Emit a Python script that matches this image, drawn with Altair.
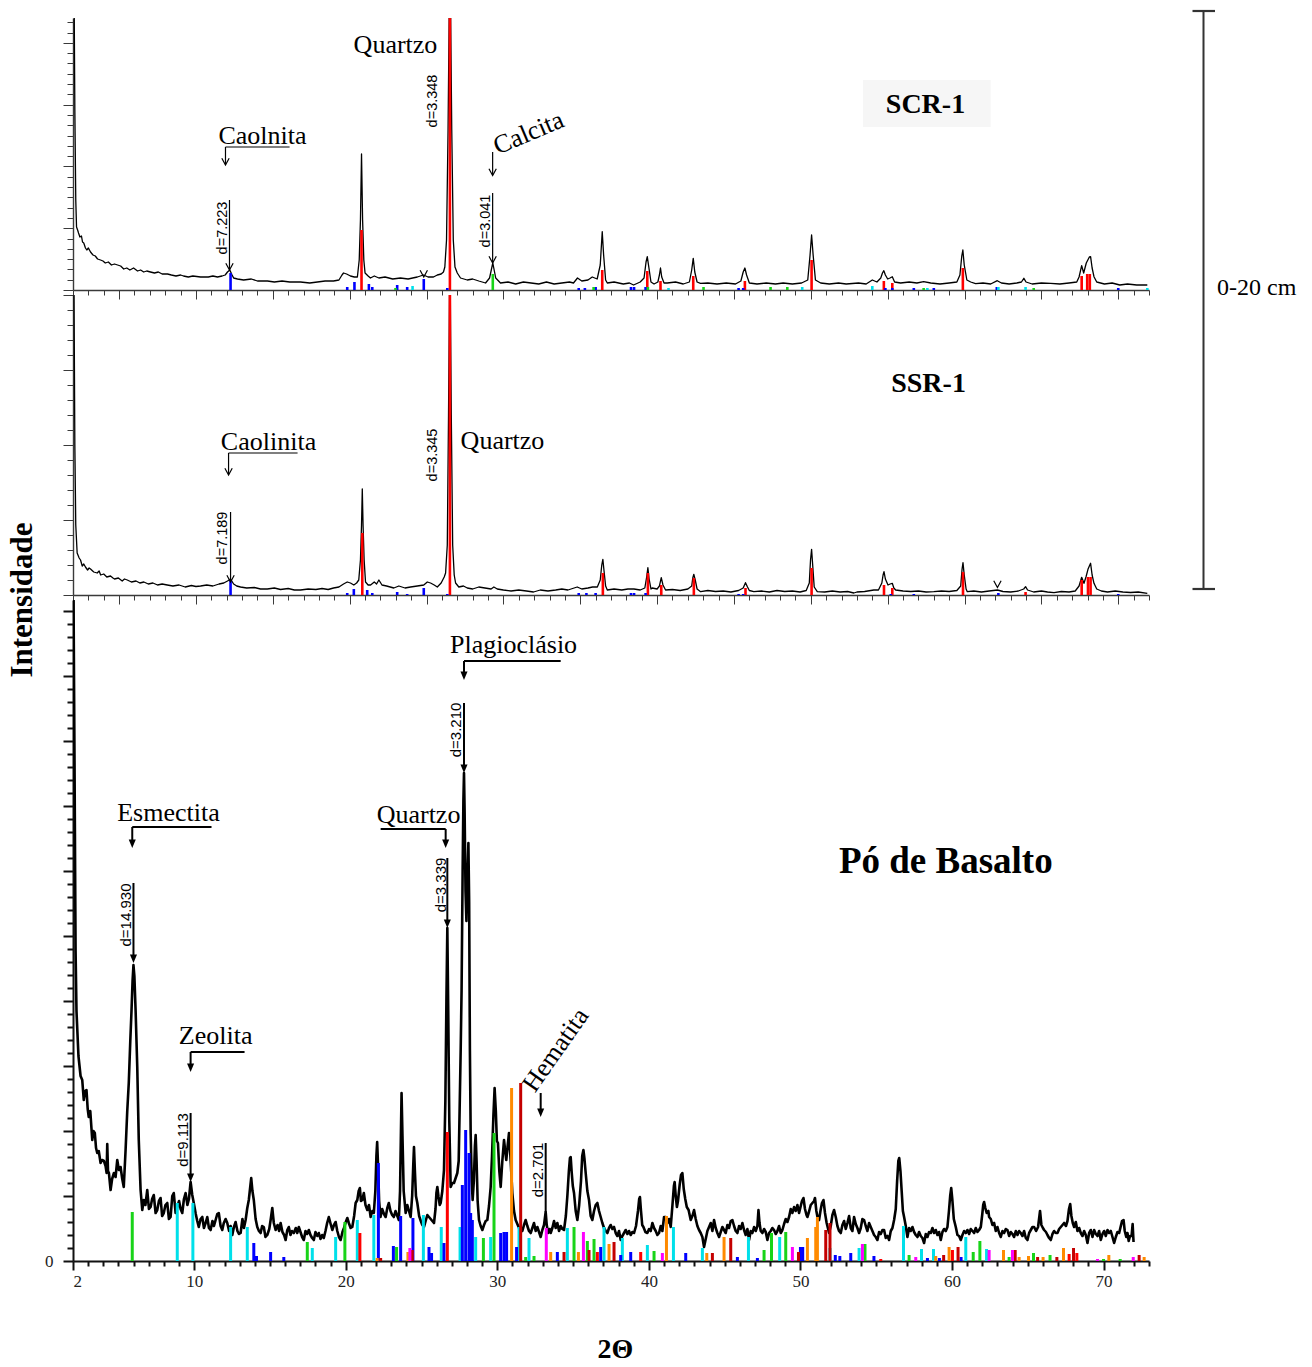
import altair as alt
import pandas as pd

SERIF = "Liberation Serif"
SANS = "Liberation Sans"
PLOT_W = 1076

# ---------------------------------------------------------------
# Diffractograms: (2θ, counts)
# ---------------------------------------------------------------
scr_pattern = [
    (2.00, 4000), (2.05, 3500), (2.12, 1800), (2.18, 900), (2.23, 630), (2.30, 600), (2.36, 570),
    (2.45, 530), (2.55, 540), (2.62, 480), (2.70, 470), (2.81, 420), (2.90, 400), (3.00, 420),
    (3.14, 380), (3.30, 350), (3.45, 340), (3.60, 310), (3.79, 300), (3.95, 290), (4.10, 270),
    (4.30, 280), (4.50, 250), (4.70, 260), (4.90, 250), (5.10, 240), (5.30, 210), (5.50, 220),
    (5.70, 200), (5.94, 220), (6.20, 190), (6.40, 200), (6.60, 180), (6.80, 190), (7.04, 180),
    (7.30, 170), (7.55, 180), (7.80, 160), (8.15, 160), (8.40, 150), (8.70, 140), (9.00, 150),
    (9.19, 140), (9.50, 130), (9.80, 140), (10.30, 130), (10.80, 130), (11.10, 140), (11.40, 130),
    (11.70, 140), (11.90, 150), (12.05, 180), (12.20, 200), (12.35, 150), (12.45, 120), (12.70, 110),
    (13.10, 100), (13.60, 110), (14.00, 90), (14.65, 90), (15.10, 80), (15.60, 90), (16.10, 80),
    (16.80, 80), (17.40, 70), (17.90, 80), (18.40, 90), (18.95, 90), (19.30, 100), (19.50, 150),
    (19.60, 170), (19.80, 160), (20.05, 140), (20.30, 130), (20.50, 130), (20.62, 300), (20.70, 700),
    (20.77, 1360), (20.84, 700), (20.92, 300), (21.00, 170), (21.20, 140), (21.35, 120), (21.60, 140),
    (21.90, 120), (22.30, 130), (22.80, 110), (23.30, 120), (23.80, 110), (24.40, 130), (24.80, 150),
    (25.10, 130), (25.45, 130), (25.70, 150), (25.95, 160), (26.10, 180), (26.19, 230), (26.30, 500),
    (26.40, 1600), (26.52, 3500), (26.64, 1600), (26.74, 500), (26.85, 230), (27.00, 170), (27.21, 120),
    (27.65, 100), (28.00, 110), (28.40, 90), (28.84, 70), (29.10, 120), (29.31, 270), (29.50, 120),
    (29.81, 70), (30.30, 80), (30.80, 60), (31.30, 80), (31.80, 70), (32.30, 60), (32.80, 80),
    (33.30, 60), (33.80, 70), (34.30, 80), (34.56, 70), (34.82, 120), (35.10, 90), (35.50, 100),
    (35.78, 130), (36.10, 110), (36.30, 250), (36.43, 583), (36.52, 350), (36.65, 100), (36.76, 70),
    (37.20, 80), (37.80, 60), (38.20, 70), (38.47, 50), (38.90, 80), (39.15, 120), (39.28, 280),
    (39.36, 333), (39.44, 250), (39.60, 80), (39.80, 60), (40.05, 80), (40.15, 150), (40.22, 220),
    (40.30, 130), (40.45, 70), (40.66, 70), (41.20, 80), (41.70, 60), (42.10, 80), (42.25, 200),
    (42.35, 317), (42.45, 180), (42.60, 80), (42.82, 67), (43.30, 70), (43.90, 60), (44.50, 70),
    (45.10, 60), (45.45, 90), (45.60, 180), (45.71, 220), (45.82, 150), (46.00, 70), (46.50, 60),
    (47.10, 70), (47.70, 60), (48.20, 70), (48.80, 60), (49.40, 70), (49.80, 100), (49.95, 350),
    (50.05, 550), (50.15, 350), (50.30, 100), (50.64, 70), (51.20, 60), (51.80, 70), (52.30, 60),
    (53.10, 70), (53.60, 60), (54.00, 100), (54.30, 80), (54.55, 120), (54.66, 170), (54.75, 193),
    (54.85, 150), (55.00, 110), (55.15, 120), (55.30, 133), (55.45, 80), (55.84, 70), (56.40, 80),
    (56.90, 70), (57.34, 83), (57.80, 70), (58.40, 60), (59.00, 70), (59.50, 80), (59.70, 150),
    (59.82, 340), (59.89, 400), (59.98, 250), (60.15, 100), (60.40, 80), (60.72, 63), (61.20, 70),
    (61.70, 60), (62.13, 93), (62.40, 70), (62.90, 60), (63.40, 70), (63.70, 80), (63.86, 117),
    (64.00, 80), (64.40, 60), (65.00, 70), (65.60, 67), (66.20, 60), (66.80, 70), (67.30, 80),
    (67.45, 130), (67.62, 243), (67.75, 170), (67.92, 270), (68.02, 300), (68.12, 330), (68.20, 333),
    (68.30, 220), (68.42, 133), (68.60, 80), (69.10, 60), (69.60, 70), (70.10, 50), (70.60, 60),
    (71.20, 50), (71.89, 50),
]

ssr_pattern = [
    (2.00, 4000), (2.05, 3500), (2.12, 1500), (2.18, 700), (2.27, 420), (2.40, 370), (2.49, 350),
    (2.60, 290), (2.70, 310), (2.81, 280), (2.95, 250), (3.05, 270), (3.14, 260), (3.35, 230),
    (3.57, 220), (3.70, 240), (3.80, 200), (4.00, 210), (4.20, 180), (4.44, 190), (4.60, 170),
    (4.70, 160), (4.95, 170), (5.20, 140), (5.35, 160), (5.53, 150), (5.80, 130), (6.10, 140),
    (6.35, 120), (6.61, 130), (6.90, 110), (7.20, 120), (7.50, 100), (7.80, 110), (8.13, 100),
    (8.50, 90), (8.90, 100), (9.30, 80), (9.70, 95), (10.00, 85), (10.30, 90), (10.70, 100),
    (11.10, 90), (11.50, 110), (11.81, 120), (12.05, 140), (12.25, 160), (12.45, 110), (12.65, 90),
    (12.90, 80), (13.30, 70), (13.80, 75), (14.20, 60), (14.64, 60), (15.10, 70), (15.50, 55),
    (16.00, 65), (16.40, 50), (16.80, 50), (17.30, 60), (17.80, 55), (18.20, 65), (18.60, 55),
    (18.95, 70), (19.30, 80), (19.60, 110), (19.84, 130), (20.05, 120), (20.27, 100), (20.45, 120),
    (20.59, 150), (20.70, 350), (20.77, 700), (20.82, 1060), (20.87, 700), (20.94, 350), (21.03, 130),
    (21.20, 100), (21.36, 100), (21.60, 130), (21.75, 110), (21.90, 150), (22.10, 100), (22.40, 90),
    (22.87, 70), (23.20, 90), (23.60, 70), (23.96, 80), (24.40, 90), (24.82, 100), (25.05, 130),
    (25.26, 120), (25.50, 100), (25.70, 80), (25.95, 120), (26.15, 180), (26.24, 220), (26.35, 500),
    (26.43, 1800), (26.52, 3500), (26.61, 1800), (26.70, 500), (26.80, 200), (26.89, 120), (27.10, 80),
    (27.40, 90), (27.65, 70), (28.00, 60), (28.40, 80), (28.80, 70), (29.20, 60), (29.38, 80),
    (29.60, 60), (30.00, 50), (30.50, 40), (31.00, 50), (31.50, 40), (31.96, 30), (32.40, 50),
    (32.90, 40), (33.40, 50), (33.80, 60), (34.20, 50), (34.60, 70), (34.80, 80), (35.10, 60),
    (35.50, 70), (35.80, 80), (36.11, 80), (36.30, 150), (36.40, 300), (36.47, 357), (36.54, 250),
    (36.65, 90), (36.76, 50), (37.20, 60), (37.70, 50), (38.10, 60), (38.49, 60), (38.90, 50),
    (39.20, 70), (39.32, 180), (39.40, 273), (39.48, 160), (39.60, 60), (39.68, 70), (40.00, 60),
    (40.15, 90), (40.27, 173), (40.38, 100), (40.55, 50), (41.00, 55), (41.50, 45), (42.00, 60),
    (42.25, 90), (42.32, 170), (42.39, 207), (42.48, 150), (42.60, 60), (42.83, 33), (43.30, 45),
    (43.80, 35), (44.30, 40), (44.80, 30), (45.30, 45), (45.60, 70), (45.75, 123), (45.88, 80),
    (46.00, 45), (46.29, 33), (46.80, 40), (47.30, 30), (47.80, 45), (48.30, 35), (48.80, 40),
    (49.30, 30), (49.70, 45), (49.90, 120), (49.98, 350), (50.05, 457), (50.12, 300), (50.22, 80),
    (50.42, 33), (50.90, 30), (51.40, 40), (51.90, 30), (52.40, 35), (52.80, 20), (53.00, 30),
    (53.50, 35), (54.10, 50), (54.40, 50), (54.62, 120), (54.70, 200), (54.76, 233), (54.85, 160),
    (55.02, 100), (55.16, 110), (55.30, 117), (55.40, 70), (55.52, 50), (56.00, 40), (56.50, 35),
    (57.00, 40), (57.50, 30), (58.00, 33), (58.50, 40), (59.00, 35), (59.50, 45), (59.75, 90),
    (59.84, 260), (59.90, 323), (59.98, 200), (60.10, 60), (60.18, 33), (60.60, 40), (61.10, 30),
    (61.60, 40), (62.14, 50), (62.50, 35), (63.00, 30), (63.50, 40), (63.85, 60), (63.97, 83),
    (64.10, 50), (64.50, 30), (65.00, 40), (65.40, 30), (65.82, 23), (66.30, 35), (66.80, 30),
    (67.20, 40), (67.45, 90), (67.62, 177), (67.77, 117), (67.90, 180), (68.03, 257), (68.12, 290),
    (68.20, 317), (68.30, 200), (68.42, 117), (68.60, 60), (68.90, 40), (69.30, 30), (69.80, 40),
    (70.30, 30), (70.80, 25), (71.30, 30), (71.89, 17),
]

basalt_pattern = [
    (2.02, 7000), (2.10, 5000), (2.17, 3100), (2.23, 2500), (2.36, 2050), (2.50, 1850), (2.61, 1810),
    (2.71, 1610), (2.80, 1700), (2.89, 1710), (2.97, 1520), (3.04, 1440), (3.14, 1500), (3.27, 1210),
    (3.35, 1300), (3.44, 1280), (3.52, 1130), (3.60, 1080), (3.70, 1100), (3.82, 980), (3.92, 1010),
    (4.04, 1000), (4.15, 950), (4.22, 880), (4.26, 1170), (4.31, 900), (4.37, 880), (4.48, 710),
    (4.58, 820), (4.70, 880), (4.81, 840), (4.92, 1010), (5.03, 910), (5.14, 940), (5.25, 820),
    (5.35, 740), (5.47, 1110), (5.58, 1500), (5.68, 1780), (5.78, 2200), (5.86, 2500), (5.93, 2800),
    (5.99, 2960), (6.05, 2850), (6.13, 2510), (6.24, 1940), (6.34, 1210), (6.46, 710), (6.57, 510),
    (6.67, 610), (6.78, 560), (6.90, 710), (7.01, 520), (7.12, 540), (7.22, 620), (7.33, 660),
    (7.45, 480), (7.56, 510), (7.67, 600), (7.78, 630), (7.88, 450), (7.99, 480), (8.10, 560),
    (8.22, 580), (8.33, 420), (8.44, 440), (8.55, 650), (8.65, 680), (8.77, 480), (8.88, 540),
    (9.00, 600), (9.10, 520), (9.21, 480), (9.32, 620), (9.43, 680), (9.55, 560), (9.65, 620),
    (9.76, 790), (9.87, 660), (9.97, 580), (10.10, 470), (10.20, 400), (10.30, 340), (10.42, 420),
    (10.53, 440), (10.64, 330), (10.75, 380), (10.86, 440), (10.97, 330), (11.08, 310), (11.20, 400),
    (11.30, 350), (11.41, 410), (11.52, 470), (11.62, 480), (11.74, 350), (11.85, 310), (11.95, 380),
    (12.07, 420), (12.18, 380), (12.30, 300), (12.40, 350), (12.51, 260), (12.62, 340), (12.73, 390),
    (12.85, 300), (12.95, 270), (13.06, 280), (13.18, 420), (13.28, 330), (13.39, 410), (13.50, 530),
    (13.60, 610), (13.68, 720), (13.76, 830), (13.84, 700), (13.93, 610), (14.05, 420), (14.16, 340),
    (14.27, 300), (14.38, 280), (14.48, 350), (14.59, 340), (14.70, 240), (14.82, 260), (14.95, 320),
    (15.05, 420), (15.15, 530), (15.25, 380), (15.37, 310), (15.50, 360), (15.60, 300), (15.70, 380),
    (15.82, 290), (15.93, 260), (16.03, 210), (16.14, 310), (16.24, 340), (16.35, 260), (16.45, 300),
    (16.57, 280), (16.70, 330), (16.80, 280), (16.90, 340), (17.01, 290), (17.12, 240), (17.23, 210),
    (17.34, 300), (17.45, 270), (17.56, 310), (17.67, 260), (17.78, 230), (17.89, 210), (18.00, 290),
    (18.12, 250), (18.22, 280), (18.33, 220), (18.44, 260), (18.55, 230), (18.66, 300), (18.77, 380),
    (18.88, 440), (19.00, 370), (19.11, 310), (19.22, 360), (19.33, 390), (19.44, 300), (19.55, 240),
    (19.66, 210), (19.78, 290), (19.88, 330), (20.00, 390), (20.10, 430), (20.20, 380), (20.32, 330),
    (20.43, 340), (20.55, 450), (20.65, 580), (20.76, 610), (20.85, 700), (20.93, 730), (21.00, 600),
    (21.09, 610), (21.19, 680), (21.30, 560), (21.42, 510), (21.53, 560), (21.64, 440), (21.75, 500),
    (21.85, 480), (21.95, 700), (22.02, 1050), (22.07, 1190), (22.13, 950), (22.20, 600), (22.29, 440),
    (22.40, 520), (22.52, 470), (22.63, 440), (22.74, 530), (22.84, 580), (22.95, 500), (23.06, 460),
    (23.17, 440), (23.28, 500), (23.40, 450), (23.50, 410), (23.58, 700), (23.63, 1200), (23.68, 1680),
    (23.74, 1250), (23.82, 700), (23.95, 480), (24.06, 560), (24.17, 500), (24.28, 440), (24.38, 650),
    (24.45, 950), (24.50, 1140), (24.56, 900), (24.63, 650), (24.72, 580), (24.84, 450), (24.95, 400),
    (25.05, 360), (25.16, 340), (25.27, 400), (25.38, 460), (25.49, 440), (25.60, 420), (25.71, 400),
    (25.82, 380), (25.92, 520), (25.98, 680), (26.04, 740), (26.12, 640), (26.20, 560), (26.26, 580),
    (26.37, 700), (26.48, 910), (26.57, 1600), (26.64, 2600), (26.70, 3330), (26.76, 2500), (26.83, 1400),
    (26.92, 740), (27.03, 780), (27.14, 780), (27.25, 830), (27.36, 880), (27.45, 1000), (27.51, 1500),
    (27.58, 2100), (27.64, 2700), (27.71, 3900), (27.76, 4600), (27.80, 4880), (27.84, 4500), (27.90, 3700),
    (27.96, 3400), (28.02, 3800), (28.09, 4180), (28.14, 3600), (28.19, 2100), (28.24, 1280), (28.31, 800),
    (28.37, 610), (28.45, 800), (28.52, 1150), (28.57, 1260), (28.63, 1000), (28.70, 600), (28.79, 410),
    (28.90, 350), (29.01, 310), (29.12, 360), (29.23, 400), (29.34, 410), (29.45, 550), (29.56, 740),
    (29.65, 1050), (29.74, 1450), (29.82, 1730), (29.90, 1500), (29.97, 1200), (30.04, 1180), (30.13, 900),
    (30.22, 740), (30.33, 1000), (30.44, 1210), (30.52, 1100), (30.59, 1010), (30.68, 1150), (30.77, 1280),
    (30.88, 1000), (30.99, 680), (31.10, 500), (31.21, 410), (31.32, 370), (31.43, 330), (31.54, 340),
    (31.65, 300), (31.76, 360), (31.87, 410), (31.98, 350), (32.09, 300), (32.20, 280), (32.31, 330),
    (32.42, 380), (32.53, 300), (32.64, 340), (32.75, 290), (32.86, 240), (32.97, 310), (33.08, 360),
    (33.19, 490), (33.26, 360), (33.35, 280), (33.45, 320), (33.52, 280), (33.63, 330), (33.74, 400),
    (33.85, 330), (33.96, 380), (34.07, 300), (34.18, 350), (34.29, 320), (34.40, 310), (34.52, 450),
    (34.62, 650), (34.72, 900), (34.79, 1030), (34.84, 1040), (34.90, 900), (34.98, 750), (35.06, 680),
    (35.17, 500), (35.28, 410), (35.40, 560), (35.52, 800), (35.60, 1050), (35.68, 1110), (35.75, 1020),
    (35.83, 880), (35.94, 700), (36.05, 610), (36.16, 450), (36.27, 410), (36.38, 500), (36.49, 560),
    (36.60, 580), (36.71, 500), (36.82, 440), (36.93, 380), (37.04, 330), (37.15, 300), (37.26, 280),
    (37.37, 330), (37.48, 360), (37.59, 320), (37.70, 340), (37.81, 280), (37.92, 250), (38.03, 300),
    (38.14, 210), (38.25, 250), (38.36, 280), (38.47, 310), (38.58, 270), (38.69, 300), (38.80, 260),
    (38.91, 290), (39.02, 280), (39.15, 350), (39.28, 500), (39.36, 620), (39.41, 640), (39.48, 500),
    (39.56, 360), (39.64, 340), (39.77, 290), (39.90, 280), (40.01, 320), (40.12, 300), (40.23, 380),
    (40.34, 330), (40.45, 300), (40.56, 260), (40.67, 280), (40.78, 350), (40.89, 300), (41.00, 440),
    (41.11, 440), (41.22, 380), (41.33, 420), (41.44, 340), (41.55, 550), (41.65, 750), (41.70, 790),
    (41.77, 650), (41.85, 540), (41.92, 600), (42.03, 760), (42.12, 860), (42.21, 880), (42.30, 720),
    (42.40, 620), (42.50, 540), (42.62, 510), (42.76, 410), (42.87, 450), (42.98, 510), (43.09, 420),
    (43.20, 350), (43.31, 310), (43.42, 280), (43.53, 240), (43.64, 140), (43.75, 220), (43.86, 300),
    (43.97, 340), (44.08, 380), (44.19, 300), (44.30, 410), (44.41, 330), (44.52, 280), (44.63, 240),
    (44.74, 290), (44.85, 340), (44.96, 310), (45.07, 280), (45.18, 360), (45.29, 330), (45.40, 400),
    (45.51, 410), (45.62, 350), (45.73, 300), (45.84, 280), (45.95, 350), (46.06, 320), (46.17, 380),
    (46.28, 310), (46.39, 260), (46.50, 320), (46.61, 210), (46.72, 300), (46.83, 280), (46.94, 340),
    (47.05, 300), (47.16, 350), (47.23, 510), (47.30, 380), (47.38, 300), (47.49, 280), (47.60, 320),
    (47.71, 290), (47.82, 210), (47.93, 280), (48.04, 300), (48.15, 330), (48.26, 310), (48.37, 270),
    (48.48, 300), (48.59, 350), (48.70, 280), (48.81, 310), (48.92, 370), (49.03, 420), (49.14, 390),
    (49.25, 440), (49.36, 520), (49.47, 480), (49.58, 540), (49.69, 500), (49.80, 560), (49.91, 480),
    (50.02, 550), (50.10, 600), (50.20, 630), (50.30, 520), (50.40, 460), (50.46, 440), (50.56, 490),
    (50.68, 560), (50.79, 580), (50.90, 600), (50.96, 630), (51.05, 500), (51.15, 420), (51.23, 410),
    (51.32, 500), (51.42, 580), (51.52, 610), (51.62, 480), (51.73, 380), (51.89, 280), (52.00, 350),
    (52.11, 460), (52.22, 510), (52.33, 440), (52.44, 350), (52.55, 300), (52.66, 280), (52.77, 360),
    (52.88, 400), (52.99, 320), (53.10, 380), (53.21, 450), (53.32, 330), (53.43, 300), (53.54, 440),
    (53.65, 370), (53.76, 330), (53.87, 280), (53.98, 330), (54.09, 420), (54.20, 410), (54.31, 350),
    (54.42, 300), (54.53, 380), (54.64, 340), (54.75, 300), (54.86, 260), (54.97, 240), (55.08, 210),
    (55.19, 290), (55.30, 270), (55.41, 310), (55.52, 310), (55.63, 230), (55.74, 250), (55.85, 210),
    (55.96, 300), (56.07, 330), (56.18, 410), (56.29, 520), (56.38, 800), (56.46, 1000), (56.52, 1030),
    (56.60, 900), (56.68, 700), (56.76, 500), (56.84, 440), (56.95, 350), (57.06, 240), (57.17, 330),
    (57.28, 300), (57.39, 340), (57.50, 290), (57.61, 260), (57.72, 240), (57.83, 290), (57.94, 250),
    (58.05, 230), (58.16, 180), (58.27, 270), (58.38, 240), (58.49, 290), (58.60, 280), (58.71, 330),
    (58.82, 280), (58.93, 310), (59.04, 260), (59.15, 290), (59.26, 210), (59.37, 290), (59.48, 320),
    (59.59, 300), (59.70, 340), (59.80, 500), (59.88, 650), (59.95, 730), (60.02, 620), (60.12, 420),
    (60.25, 340), (60.36, 260), (60.47, 250), (60.58, 210), (60.69, 260), (60.80, 300), (60.91, 280),
    (61.02, 310), (61.13, 270), (61.24, 320), (61.35, 300), (61.46, 280), (61.57, 330), (61.68, 290),
    (61.79, 310), (61.90, 340), (62.00, 470), (62.06, 560), (62.12, 590), (62.20, 530), (62.29, 480),
    (62.40, 500), (62.45, 440), (62.56, 420), (62.67, 360), (62.78, 380), (62.89, 300), (63.00, 340),
    (63.11, 280), (63.22, 240), (63.33, 300), (63.44, 280), (63.55, 320), (63.66, 310), (63.77, 250),
    (63.88, 290), (63.99, 270), (64.10, 240), (64.21, 300), (64.32, 260), (64.43, 300), (64.54, 280),
    (64.65, 250), (64.76, 300), (64.87, 230), (64.98, 210), (65.09, 280), (65.20, 310), (65.31, 340),
    (65.42, 340), (65.55, 300), (65.68, 340), (65.81, 500), (65.90, 360), (66.00, 330), (66.08, 310),
    (66.20, 290), (66.30, 260), (66.41, 230), (66.52, 210), (66.63, 270), (66.74, 300), (66.85, 280),
    (66.96, 280), (67.07, 320), (67.18, 340), (67.29, 360), (67.40, 380), (67.52, 350), (67.62, 400),
    (67.72, 520), (67.80, 570), (67.88, 450), (67.97, 380), (68.06, 340), (68.17, 390), (68.28, 300),
    (68.39, 330), (68.50, 280), (68.61, 250), (68.72, 300), (68.83, 260), (68.94, 180), (69.05, 280),
    (69.16, 310), (69.27, 240), (69.38, 310), (69.49, 270), (69.60, 250), (69.71, 300), (69.82, 210),
    (69.93, 270), (70.04, 300), (70.15, 250), (70.26, 310), (70.37, 280), (70.48, 300), (70.59, 240),
    (70.70, 180), (70.81, 240), (70.92, 290), (71.03, 280), (71.14, 350), (71.22, 400), (71.32, 410),
    (71.40, 300), (71.50, 240), (71.58, 280), (71.66, 200), (71.75, 250), (71.85, 250), (71.92, 370),
    (71.98, 190),
]

# ---------------------------------------------------------------
# Reference stick patterns: (2θ, relative height) per colour
# ---------------------------------------------------------------
scr_sticks = {
    "vermelho": [(20.77, 600), (26.52, 3000), (36.43, 200), (39.36, 190), (40.22, 90), (42.35, 140),
                 (45.71, 90), (50.05, 300), (54.75, 90), (55.30, 70), (59.89, 220), (67.62, 140),
                 (67.98, 160), (68.15, 160)],
    "azul": [(12.25, 170), (19.84, 30), (20.31, 80), (21.25, 60), (21.47, 30), (23.09, 50), (23.74, 30),
             (24.82, 110), (26.35, 20), (34.90, 20), (35.30, 20), (36.00, 30), (38.30, 30), (38.50, 30),
             (39.25, 30), (45.30, 20), (45.60, 20), (54.85, 20), (55.30, 20), (56.70, 20), (58.00, 20),
             (62.10, 30), (70.00, 20)],
    "ciano": [(24.09, 40), (40.74, 20), (49.44, 30), (54.00, 40), (57.58, 20), (62.20, 30), (63.97, 30),
              (71.89, 20)],
    "verde": [(22.98, 20), (29.31, 160), (35.87, 30), (39.40, 30), (43.02, 30), (47.38, 30), (48.47, 30),
              (57.34, 20), (64.50, 20)],
}

ssr_sticks = {
    "vermelho": [(20.82, 620), (26.52, 3000), (36.47, 220), (39.40, 220), (40.27, 100), (42.39, 170),
                 (45.75, 70), (50.05, 270), (54.76, 100), (55.30, 70), (59.90, 230), (63.97, 30),
                 (67.62, 150), (68.03, 180), (68.20, 180)],
    "azul": [(12.25, 150), (19.84, 20), (20.27, 60), (21.14, 50), (21.47, 20), (23.09, 30), (23.74, 10),
             (24.82, 70), (26.35, 10), (34.90, 20), (35.40, 20), (36.00, 20), (38.30, 20), (38.50, 20),
             (39.25, 20), (45.30, 10), (45.60, 10), (55.20, 10), (56.70, 10), (62.20, 20), (70.00, 10)],
}

basalt_sticks = {
    "verde": [(5.91, 490), (17.46, 190), (19.94, 390), (23.35, 140), (29.08, 230), (29.78, 1280),
              (31.87, 40), (32.42, 50), (35.06, 340), (35.94, 200), (36.38, 220), (40.34, 100),
              (47.60, 110), (48.09, 280), (49.03, 290), (54.26, 170), (57.17, 60), (61.40, 90),
              (61.84, 200), (63.77, 40), (65.38, 80), (66.47, 60), (70.00, 20), (71.10, 20)],
    "ciano": [(8.88, 580), (9.91, 580), (12.40, 340), (13.50, 340), (17.79, 130), (19.33, 240),
              (20.76, 410), (21.85, 460), (25.12, 460), (26.30, 340), (27.54, 340), (28.57, 240),
              (29.56, 240), (31.43, 340), (32.09, 230), (34.62, 330), (37.04, 340), (38.25, 230),
              (39.90, 160), (41.62, 340), (43.53, 130), (46.57, 240), (48.63, 240), (51.95, 130),
              (53.87, 130), (56.80, 350), (57.99, 120), (58.78, 120), (60.91, 240), (62.28, 120)],
    "azul": [(13.93, 180), (14.11, 50), (15.04, 90), (15.91, 40), (22.15, 980), (23.14, 150),
             (23.62, 450), (24.43, 430), (25.49, 140), (25.66, 80), (26.48, 180), (27.69, 760),
             (27.91, 1310), (28.13, 1080), (28.24, 480), (28.35, 410), (30.22, 280), (30.44, 290),
             (30.61, 290), (31.27, 140), (33.96, 90), (36.82, 140), (38.14, 60), (38.80, 90),
             (42.43, 80), (45.84, 40), (47.16, 30), (50.00, 140), (50.15, 140), (52.30, 60),
             (52.60, 50), (53.32, 80), (54.85, 50), (58.38, 30), (59.17, 30), (60.60, 40)],
    "vermelho": [(20.93, 280), (26.70, 1290), (36.60, 90), (39.46, 90), (55.30, 20), (60.03, 110),
                 (67.73, 70), (68.24, 80)],
    "laranja": [(22.07, 30), (24.10, 90), (30.94, 1730), (33.52, 90), (35.35, 90), (37.37, 170),
                (41.16, 450), (43.82, 80), (44.96, 240), (50.46, 230), (51.01, 340), (51.12, 440),
                (58.93, 50), (59.81, 140), (63.40, 110), (64.43, 40), (65.05, 50), (66.01, 40),
                (67.36, 130), (70.35, 60), (72.68, 40)],
    "vinho": [(22.30, 30), (24.39, 110), (31.54, 1780), (34.40, 90), (36.05, 110), (37.70, 190),
              (44.19, 80), (45.40, 230), (49.87, 90), (51.67, 310), (51.95, 380), (59.45, 60),
              (60.40, 140), (64.17, 110), (65.65, 40), (66.92, 40), (68.02, 130), (72.35, 60)],
    "magenta": [(24.23, 130), (33.23, 330), (35.68, 290), (40.89, 80), (49.47, 140), (54.09, 170),
                (57.61, 40), (62.45, 110), (63.99, 110), (69.60, 20), (71.96, 40)],
}

STICK_COLORS = {
    "verde": "#18d418",
    "ciano": "#00e0ea",
    "azul": "#0000ff",
    "vermelho": "#ff0000",
    "laranja": "#ff8a00",
    "vinho": "#c40000",
    "magenta": "#ff00ff",
}

# ---------------------------------------------------------------
# Annotations (2θ, counts)
# ---------------------------------------------------------------
scr_labels = [("Quartzo", 22.98, 2450), ("Caolnita", 14.33, 1540)]
scr_tilted = [("Calcita", 31.64, 1570, 337)]
scr_dvalues = [("d=3.348", 25.45, 1890), ("d=7.223", 11.74, 620), ("d=3.041", 28.84, 690)]
scr_lines = [(11.92, 1430, 16.09, 1430), (11.92, 1430, 11.92, 1255), (12.18, 900, 12.18, 205),
             (29.30, 1380, 29.30, 1150), (29.30, 970, 29.30, 275)]
scr_heads = [(11.92, 1250), (12.18, 200), (29.30, 1145), (29.30, 270), (24.82, 130)]
scr_sample = [("SCR-1", 57.46, 1850)]
scr_box = [(53.4, 2100, 61.7, 1630)]

ssr_labels = [("Caolinita", 14.72, 1530), ("Quartzo", 29.94, 1540)]
ssr_dvalues = [("d=7.189", 11.74, 570), ("d=3.345", 25.45, 1400)]
ssr_lines = [(12.12, 1420, 16.61, 1420), (12.12, 1420, 12.12, 1205), (12.25, 830, 12.25, 135)]
ssr_heads = [(12.12, 1200), (12.25, 130), (62.14, 75)]
ssr_sample = [("SSR-1", 57.66, 2110)]

bas_labels = [("Esmectita", 8.30, 4480), ("Zeolita", 11.41, 2250), ("Quartzo", 24.80, 4460),
              ("Plagioclásio", 31.07, 6160)]
bas_tilted = [("Hematita", 33.85, 2110, 305)]
bas_dvalues = [("d=14.930", 5.47, 3460), ("d=9.113", 9.23, 1210), ("d=3.339", 26.26, 3760),
               ("d=3.210", 27.25, 5310), ("d=2.701", 32.66, 910)]
bas_lines = [(5.91, 4340, 11.14, 4340), (5.91, 4340, 5.91, 4180), (5.99, 3780, 5.99, 3030),
             (9.76, 2090, 13.32, 2090), (9.76, 2090, 9.76, 1940), (9.76, 1480, 9.76, 840),
             (22.30, 4320, 26.59, 4320), (26.59, 4320, 26.59, 4180), (26.70, 4030, 26.70, 3380),
             (27.80, 6000, 34.18, 6000), (27.80, 6000, 27.80, 5860), (27.80, 5580, 27.80, 4930),
             (32.86, 1680, 32.86, 1490), (33.19, 1180, 33.19, 490)]
bas_heads = [(5.91, 4130), (5.99, 2980), (9.76, 1890), (9.76, 790), (26.59, 4130), (26.70, 3330),
             (27.80, 5810), (27.80, 4880), (32.86, 1440)]
bas_sample = [("Pó de Basalto", 59.59, 3990)]

OPEN_V = "M-0.6,-1.1L0,0L0.6,-1.1"
SOLID_V = "M-0.5,-1.2L0,0L0.5,-1.2Z"


def xrd_panel(pattern, sticks, x_max, y_max, y_step, y_long, line_w, stick_w,
              ann_w, head_shape, head_filled, labels, dvalues, lines, heads, sample,
              sample_size, tilted=(), box=(), bottom=False):
    xs = alt.Scale(domain=[2, x_max], nice=False, zero=False)
    ys = alt.Scale(domain=[0, y_max], nice=False, zero=False)
    axis_col = "#111" if bottom else "#3a3a3a"

    x_axis = alt.Axis(
        values=list(range(2, x_max + 1)),
        tickSize={"condition": {"test": "datum.value % 10 === 0 || datum.value === 2" if bottom
                                else "datum.value % 5 === 0", "value": 9}, "value": 5},
        tickColor=axis_col, tickWidth=2 if bottom else 1, domainColor=axis_col,
        domainWidth=2 if bottom else 1.4, grid=False, labels=bottom,
        labelExpr="datum.value === 2 || datum.value % 10 === 0 ? datum.label : ''",
        labelOverlap=False, labelFont=SERIF, labelFontSize=17, labelColor="#222",
        labelPadding=3,
    )
    y_axis = alt.Axis(
        values=list(range(0, y_max + 1, y_step)),
        tickSize={"condition": {"test": f"datum.value % {y_long} === 0", "value": 10}, "value": 6},
        tickColor=axis_col, tickWidth=2 if bottom else 1, domainColor=axis_col,
        domainWidth=2 if bottom else 1.4, grid=False, labels=bottom,
        labelExpr="datum.value === 0 ? '0' : ''", labelOverlap=False,
        labelFont=SERIF, labelFontSize=17, labelColor="#222", labelPadding=10,
    )

    # every layer carries the same scale and axis so they merge into one
    def X(field):
        return alt.X(field, scale=xs, axis=x_axis, title="")

    def Y(field):
        return alt.Y(field, scale=ys, axis=y_axis, title="")

    def enc(df):
        return alt.Chart(df).encode(x=X("theta:Q"), y=Y("counts:Q"))

    layers = []
    if box:
        bx = pd.DataFrame(list(box), columns=["theta", "counts", "theta2", "counts2"])
        layers.append(enc(bx).mark_rect(color="#f6f6f6").encode(x2="theta2:Q", y2="counts2:Q"))

    pat = pd.DataFrame(pattern, columns=["theta", "counts"])
    layers.append(enc(pat).mark_line(color="black", strokeWidth=line_w, clip=True,
                                     strokeJoin="round").encode(order="theta:Q"))

    rows = [{"theta": t, "counts": h, "zero": 0, "fase": k}
            for k, pts in sticks.items() for t, h in pts]
    stk = pd.DataFrame(rows)
    layers.append(enc(stk).mark_rule(strokeWidth=stick_w, clip=True).encode(
        y2="zero:Q",
        color=alt.Color("fase:N", scale=alt.Scale(domain=list(STICK_COLORS),
                                                  range=list(STICK_COLORS.values())), legend=None),
    ))

    lab = pd.DataFrame(labels, columns=["label", "theta", "counts"])
    layers.append(enc(lab).mark_text(font=SERIF, fontSize=26, color="black").encode(text="label:N"))
    for txt, t, c, ang in tilted:
        one = pd.DataFrame([(txt, t, c)], columns=["label", "theta", "counts"])
        layers.append(enc(one).mark_text(font=SERIF, fontSize=26, color="black", angle=ang)
                      .encode(text="label:N"))
    dv = pd.DataFrame(dvalues, columns=["label", "theta", "counts"])
    layers.append(enc(dv).mark_text(font=SANS, fontSize=15 if bottom else 14.5, color="black",
                                    angle=270).encode(text="label:N"))
    sm = pd.DataFrame(sample, columns=["label", "theta", "counts"])
    layers.append(enc(sm).mark_text(font=SERIF, fontSize=sample_size, fontWeight="bold",
                                    color="black").encode(text="label:N"))
    ln = pd.DataFrame(lines, columns=["theta", "counts", "theta2", "counts2"])
    layers.append(enc(ln).mark_rule(color="black", strokeWidth=ann_w).encode(
        x2="theta2:Q", y2="counts2:Q"))
    hd = pd.DataFrame(heads, columns=["theta", "counts"])
    layers.append(enc(hd).mark_point(shape=head_shape, size=200 if bottom else 150,
                                     filled=head_filled, color="black", opacity=1,
                                     strokeWidth=ann_w))
    return layers


one_row = pd.DataFrame({"k": [0]})

# --- SCR-1 panel --------------------------------------------------
top_layers = xrd_panel(
    scr_pattern, scr_sticks, 72, 2720, 103, 618, 1.3, 2.6, 1.2, OPEN_V, False,
    scr_labels, scr_dvalues, scr_lines, scr_heads, scr_sample, 28, tilted=scr_tilted, box=scr_box)
# depth bracket shared by both soil samples
bracket = [
    alt.Chart(one_row).mark_rule(color="#333", strokeWidth=2).encode(
        x=alt.value(1130.5), y=alt.value(-7), y2=alt.value(571)),
    alt.Chart(one_row).mark_rule(color="#333", strokeWidth=2.2).encode(
        x=alt.value(1119.5), x2=alt.value(1142), y=alt.value(-7)),
    alt.Chart(one_row).mark_rule(color="#333", strokeWidth=2.2).encode(
        x=alt.value(1119.5), x2=alt.value(1142), y=alt.value(571)),
    alt.Chart(one_row).mark_text(text="0-20 cm", font=SERIF, fontSize=24, align="left",
                                 baseline="middle", color="black").encode(
        x=alt.value(1144), y=alt.value(270)),
    alt.Chart(one_row).mark_rule(strokeOpacity=0, strokeWidth=1).encode(
        x=alt.value(-72.5), x2=alt.value(-71.5), y=alt.value(-18)),
]
top = alt.layer(*top_layers, *bracket).properties(width=PLOT_W, height=272)

# --- SSR-1 panel --------------------------------------------------
mid_layers = xrd_panel(
    ssr_pattern, ssr_sticks, 72, 3000, 150, 750, 1.3, 2.6, 1.2, OPEN_V, False,
    ssr_labels, ssr_dvalues, ssr_lines, ssr_heads, ssr_sample, 28)
y_title = alt.Chart(one_row).mark_text(text="Intensidade", font=SERIF, fontSize=31,
                                       fontWeight="bold", angle=270, color="black").encode(
    x=alt.value(-50.5), y=alt.value(305))
mid = alt.layer(*mid_layers, y_title).properties(width=PLOT_W, height=300)

# --- basalt powder panel -----------------------------------------
bot_layers = xrd_panel(
    basalt_pattern, basalt_sticks, 73, 6610, 130, 650, 2.6, 3, 2, SOLID_V, True,
    bas_labels, bas_dvalues, bas_lines, bas_heads, bas_sample, 37, tilted=bas_tilted, bottom=True)
x_title = alt.Chart(one_row).mark_text(text="2Θ", font=SERIF, fontSize=28, fontWeight="bold",
                                       color="black").encode(
    x=alt.value(542.5), y=alt.value(750))
bot = alt.layer(*bot_layers, x_title).properties(width=PLOT_W, height=661)

chart = alt.vconcat(top, mid, bot, spacing=5, bounds="flush").properties(
    padding={"left": 0, "top": 0, "right": 10, "bottom": 10},
).configure_view(strokeWidth=0).configure_axis(grid=False)

chart.save("out.html", embed_options={"renderer": "svg", "actions": False})
